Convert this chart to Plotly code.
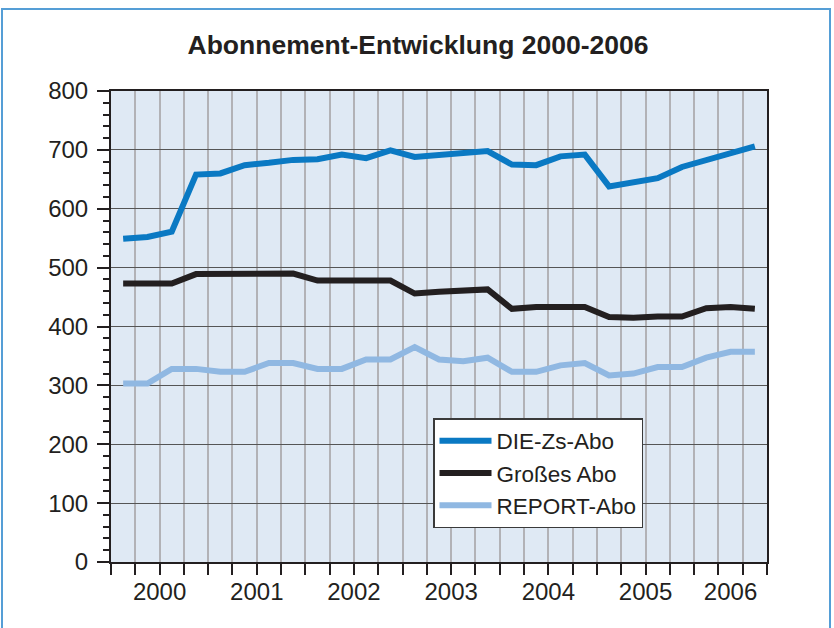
import plotly.graph_objects as go

# quarterly values, Q1 2000 .. Q3 2006
quarters = [f"{y} Q{q}" for y in range(2000, 2007) for q in range(1, 5)][:27]

die_zs = [549, 552, 561, 658, 660, 674, 678, 683, 684, 692, 686, 699, 688, 692,
          695, 698, 675, 674, 689, 692, 638, 646, 652, 671, 683, 694, 706]
grosses = [473, 473, 473, 489, 489, 490, 491, 490, 478, 479, 478, 478, 456, 459,
           461, 463, 430, 433, 433, 433, 416, 415, 417, 417, 431, 433, 430]
report = [303, 303, 328, 328, 323, 323, 338, 338, 328, 328, 344, 344, 365, 344,
          341, 347, 323, 323, 334, 338, 317, 320, 331, 331, 347, 357, 357]

years = ["2000", "2001", "2002", "2003", "2004", "2005", "2006"]

# year label sits in the middle of its quarters
year_pos = []
for yr in years:
    idx = [i for i, q in enumerate(quarters) if q.startswith(yr)]
    year_pos.append(sum(idx) / len(idx))

FONT = "Liberation Sans, Arial, sans-serif"
TXT = "#231f20"
W, H = 834, 628

fig = go.Figure([
    go.Scatter(x=quarters, y=die_zs, name="DIE-Zs-Abo", mode="lines",
               line=dict(color="#0a79c3", width=6))
    , go.Scatter(x=quarters, y=grosses, name="Großes Abo", mode="lines",
                 line=dict(color="#231f20", width=6))
    , go.Scatter(x=quarters, y=report, name="REPORT-Abo", mode="lines",
                 line=dict(color="#90b8e2", width=6))
    # carrier for the year labels
    , go.Scatter(x=year_pos, y=[None] * len(year_pos), xaxis="x2", mode="markers",
                 showlegend=False, hoverinfo="skip")
])

fig.update_layout(
    width=W, height=H,
    margin=dict(l=111, r=67, t=91, b=66),
    paper_bgcolor="white",
    plot_bgcolor="#dfe9f4",
    font=dict(family=FONT, color=TXT),
    title=dict(text="<b>Abonnement-Entwicklung 2000-2006</b>", x=418 / W, xref="container",
               xanchor="center", y=1 - 45 / H, yanchor="middle",
               font=dict(size=26.5, color=TXT, family=FONT)),
    xaxis=dict(type="category", range=[-0.5, 26.5], tickson="boundaries",
               ticks="outside", ticklen=11, tickwidth=1.5, tickcolor="#231f20",
               showticklabels=False, showgrid=True, gridcolor="#b2b2b6", gridwidth=1.5,
               showline=True, linecolor="#231f20", linewidth=2, mirror=True,
               zeroline=False),
    xaxis2=dict(overlaying="x", anchor="y", side="bottom", range=[-0.5, 26.5],
                tickvals=year_pos, ticktext=years, ticks="", showgrid=False,
                showline=False, zeroline=False, ticklabelstandoff=13,
                tickfont=dict(size=24, color=TXT)),
    yaxis=dict(range=[0, 800], dtick=100, ticks="outside", ticklen=12, tickwidth=1.5,
               tickcolor="#231f20", showgrid=True, gridcolor="#555555", gridwidth=1.2,
               showline=True, linecolor="#231f20", linewidth=2, mirror=True,
               zeroline=False, tickfont=dict(size=24, color=TXT), ticklabelstandoff=4,
               minor=dict(dtick=20, ticks="outside", ticklen=6, tickwidth=1.5,
                          tickcolor="#231f20", showgrid=False)),
    legend=dict(x=(433 - 111) / 656, y=(562 - 418) / 471, xanchor="left", yanchor="top",
                bgcolor="white", bordercolor="#3a3a3a", borderwidth=1.5,
                font=dict(size=22.5, color=TXT), itemwidth=52),
    showlegend=True,
    shapes=[dict(type="rect", xref="paper", yref="paper",
                 x0=(2 - 111) / 656, x1=(830 - 111) / 656,
                 y0=-0.2, y1=(562 - 9) / 471,
                 line=dict(color="#559ed6", width=2), layer="below")],
)

# drop the default body margin so the figure fills the window exactly
fig.write_html("out.html", config={"displayModeBar": False},
               post_script="document.body.style.margin='0';")
